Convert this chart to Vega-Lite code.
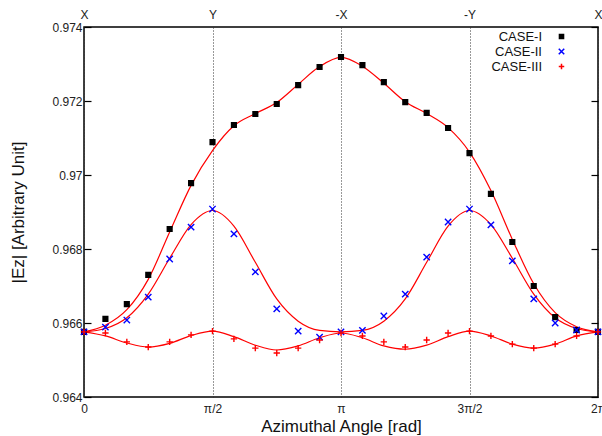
{
  "$schema": "https://vega.github.io/schema/vega-lite/v6.json",
  "width": 514,
  "height": 370,
  "autosize": "none",
  "padding": {"left": 84, "top": 27, "right": 4, "bottom": 39},
  "background": "white",
  "config": {
    "font": "Liberation Sans",
    "view": {"stroke": "black", "strokeWidth": 1.5},
    "axis": {"domain": false, "labelFont": "Liberation Sans", "titleFont": "Liberation Sans", "labelColor": "#222", "titleColor": "#111", "labelFontSize": 12, "titleFontSize": 17, "titleFontWeight": "normal", "tickColor": "black", "tickSize": -7, "tickWidth": 1.2}
  },
  "datasets": {
    "pts": [
      {"case": "CASE-I", "deg": 0, "v": 0.96576}, {"case": "CASE-I", "deg": 15, "v": 0.96611}, {"case": "CASE-I", "deg": 30, "v": 0.96651}, {"case": "CASE-I", "deg": 45, "v": 0.9673}, {"case": "CASE-I", "deg": 60, "v": 0.96854}, {"case": "CASE-I", "deg": 75, "v": 0.96978}, {"case": "CASE-I", "deg": 90, "v": 0.97089}, {"case": "CASE-I", "deg": 105, "v": 0.97135}, {"case": "CASE-I", "deg": 120, "v": 0.97165}, {"case": "CASE-I", "deg": 135, "v": 0.97192}, {"case": "CASE-I", "deg": 150, "v": 0.97243}, {"case": "CASE-I", "deg": 165, "v": 0.97292}, {"case": "CASE-I", "deg": 180, "v": 0.97319}, {"case": "CASE-I", "deg": 195, "v": 0.97297}, {"case": "CASE-I", "deg": 210, "v": 0.97251}, {"case": "CASE-I", "deg": 225, "v": 0.97197}, {"case": "CASE-I", "deg": 240, "v": 0.97168}, {"case": "CASE-I", "deg": 255, "v": 0.97127}, {"case": "CASE-I", "deg": 270, "v": 0.97059}, {"case": "CASE-I", "deg": 285, "v": 0.96949}, {"case": "CASE-I", "deg": 300, "v": 0.96819}, {"case": "CASE-I", "deg": 315, "v": 0.967}, {"case": "CASE-I", "deg": 330, "v": 0.96616}, {"case": "CASE-I", "deg": 345, "v": 0.96581}, {"case": "CASE-I", "deg": 360, "v": 0.96576},
      {"case": "CASE-II", "deg": 0, "v": 0.96576}, {"case": "CASE-II", "deg": 15, "v": 0.96589}, {"case": "CASE-II", "deg": 30, "v": 0.96608}, {"case": "CASE-II", "deg": 45, "v": 0.9667}, {"case": "CASE-II", "deg": 60, "v": 0.96773}, {"case": "CASE-II", "deg": 75, "v": 0.96859}, {"case": "CASE-II", "deg": 90, "v": 0.96908}, {"case": "CASE-II", "deg": 105, "v": 0.96841}, {"case": "CASE-II", "deg": 120, "v": 0.96738}, {"case": "CASE-II", "deg": 135, "v": 0.96638}, {"case": "CASE-II", "deg": 150, "v": 0.96578}, {"case": "CASE-II", "deg": 165, "v": 0.96562}, {"case": "CASE-II", "deg": 180, "v": 0.96576}, {"case": "CASE-II", "deg": 195, "v": 0.9658}, {"case": "CASE-II", "deg": 210, "v": 0.96619}, {"case": "CASE-II", "deg": 225, "v": 0.96678}, {"case": "CASE-II", "deg": 240, "v": 0.96778}, {"case": "CASE-II", "deg": 255, "v": 0.96873}, {"case": "CASE-II", "deg": 270, "v": 0.96908}, {"case": "CASE-II", "deg": 285, "v": 0.96865}, {"case": "CASE-II", "deg": 300, "v": 0.96768}, {"case": "CASE-II", "deg": 315, "v": 0.96665}, {"case": "CASE-II", "deg": 330, "v": 0.966}, {"case": "CASE-II", "deg": 345, "v": 0.96581}, {"case": "CASE-II", "deg": 360, "v": 0.96576},
      {"case": "CASE-III", "deg": 0, "v": 0.96576}, {"case": "CASE-III", "deg": 15, "v": 0.96573}, {"case": "CASE-III", "deg": 30, "v": 0.96549}, {"case": "CASE-III", "deg": 45, "v": 0.96535}, {"case": "CASE-III", "deg": 60, "v": 0.96549}, {"case": "CASE-III", "deg": 75, "v": 0.96568}, {"case": "CASE-III", "deg": 90, "v": 0.96578}, {"case": "CASE-III", "deg": 105, "v": 0.96557}, {"case": "CASE-III", "deg": 120, "v": 0.96532}, {"case": "CASE-III", "deg": 135, "v": 0.96519}, {"case": "CASE-III", "deg": 150, "v": 0.96532}, {"case": "CASE-III", "deg": 165, "v": 0.96554}, {"case": "CASE-III", "deg": 180, "v": 0.96573}, {"case": "CASE-III", "deg": 195, "v": 0.96565}, {"case": "CASE-III", "deg": 210, "v": 0.96549}, {"case": "CASE-III", "deg": 225, "v": 0.96535}, {"case": "CASE-III", "deg": 240, "v": 0.96554}, {"case": "CASE-III", "deg": 255, "v": 0.96573}, {"case": "CASE-III", "deg": 270, "v": 0.96578}, {"case": "CASE-III", "deg": 285, "v": 0.96565}, {"case": "CASE-III", "deg": 300, "v": 0.96543}, {"case": "CASE-III", "deg": 315, "v": 0.96532}, {"case": "CASE-III", "deg": 330, "v": 0.96543}, {"case": "CASE-III", "deg": 345, "v": 0.96565}, {"case": "CASE-III", "deg": 360, "v": 0.96576}
    ],
    "fit": [
      {"case": "CASE-I", "deg": 0, "v": 0.96576}, {"case": "CASE-I", "deg": 15, "v": 0.96594}, {"case": "CASE-I", "deg": 30, "v": 0.96636}, {"case": "CASE-I", "deg": 45, "v": 0.96718}, {"case": "CASE-I", "deg": 60, "v": 0.96846}, {"case": "CASE-I", "deg": 75, "v": 0.96972}, {"case": "CASE-I", "deg": 90, "v": 0.97066}, {"case": "CASE-I", "deg": 105, "v": 0.97133}, {"case": "CASE-I", "deg": 120, "v": 0.97166}, {"case": "CASE-I", "deg": 135, "v": 0.97196}, {"case": "CASE-I", "deg": 150, "v": 0.97245}, {"case": "CASE-I", "deg": 165, "v": 0.97293}, {"case": "CASE-I", "deg": 180, "v": 0.97318}, {"case": "CASE-I", "deg": 195, "v": 0.97294}, {"case": "CASE-I", "deg": 210, "v": 0.97248}, {"case": "CASE-I", "deg": 225, "v": 0.97198}, {"case": "CASE-I", "deg": 240, "v": 0.97166}, {"case": "CASE-I", "deg": 255, "v": 0.97128}, {"case": "CASE-I", "deg": 270, "v": 0.97062}, {"case": "CASE-I", "deg": 285, "v": 0.96958}, {"case": "CASE-I", "deg": 300, "v": 0.96826}, {"case": "CASE-I", "deg": 315, "v": 0.96706}, {"case": "CASE-I", "deg": 330, "v": 0.96628}, {"case": "CASE-I", "deg": 345, "v": 0.9659}, {"case": "CASE-I", "deg": 360, "v": 0.96576},
      {"case": "CASE-II", "deg": 0, "v": 0.96576}, {"case": "CASE-II", "deg": 15, "v": 0.96585}, {"case": "CASE-II", "deg": 30, "v": 0.96614}, {"case": "CASE-II", "deg": 45, "v": 0.96678}, {"case": "CASE-II", "deg": 60, "v": 0.96775}, {"case": "CASE-II", "deg": 75, "v": 0.96866}, {"case": "CASE-II", "deg": 90, "v": 0.96904}, {"case": "CASE-II", "deg": 105, "v": 0.96862}, {"case": "CASE-II", "deg": 120, "v": 0.96764}, {"case": "CASE-II", "deg": 135, "v": 0.96665}, {"case": "CASE-II", "deg": 150, "v": 0.96605}, {"case": "CASE-II", "deg": 165, "v": 0.9658}, {"case": "CASE-II", "deg": 180, "v": 0.96576}, {"case": "CASE-II", "deg": 195, "v": 0.9658}, {"case": "CASE-II", "deg": 210, "v": 0.96605}, {"case": "CASE-II", "deg": 225, "v": 0.96665}, {"case": "CASE-II", "deg": 240, "v": 0.96764}, {"case": "CASE-II", "deg": 255, "v": 0.96862}, {"case": "CASE-II", "deg": 270, "v": 0.96904}, {"case": "CASE-II", "deg": 285, "v": 0.96866}, {"case": "CASE-II", "deg": 300, "v": 0.96775}, {"case": "CASE-II", "deg": 315, "v": 0.96678}, {"case": "CASE-II", "deg": 330, "v": 0.96614}, {"case": "CASE-II", "deg": 345, "v": 0.96585}, {"case": "CASE-II", "deg": 360, "v": 0.96576},
      {"case": "CASE-III", "deg": 0, "v": 0.96576}, {"case": "CASE-III", "deg": 15, "v": 0.96565}, {"case": "CASE-III", "deg": 30, "v": 0.96546}, {"case": "CASE-III", "deg": 45, "v": 0.96535}, {"case": "CASE-III", "deg": 60, "v": 0.96545}, {"case": "CASE-III", "deg": 75, "v": 0.96566}, {"case": "CASE-III", "deg": 90, "v": 0.96578}, {"case": "CASE-III", "deg": 105, "v": 0.96563}, {"case": "CASE-III", "deg": 120, "v": 0.9654}, {"case": "CASE-III", "deg": 135, "v": 0.96527}, {"case": "CASE-III", "deg": 150, "v": 0.96538}, {"case": "CASE-III", "deg": 165, "v": 0.9656}, {"case": "CASE-III", "deg": 180, "v": 0.96573}, {"case": "CASE-III", "deg": 195, "v": 0.9656}, {"case": "CASE-III", "deg": 210, "v": 0.96538}, {"case": "CASE-III", "deg": 225, "v": 0.96529}, {"case": "CASE-III", "deg": 240, "v": 0.9654}, {"case": "CASE-III", "deg": 255, "v": 0.96563}, {"case": "CASE-III", "deg": 270, "v": 0.96578}, {"case": "CASE-III", "deg": 285, "v": 0.96565}, {"case": "CASE-III", "deg": 300, "v": 0.96543}, {"case": "CASE-III", "deg": 315, "v": 0.96532}, {"case": "CASE-III", "deg": 330, "v": 0.96543}, {"case": "CASE-III", "deg": 345, "v": 0.96565}, {"case": "CASE-III", "deg": 360, "v": 0.96576}
    ]
  },
  "resolve": {"axis": {"x": "independent", "y": "independent"}},
  "layer": [
    {
      "data": {"name": "fit"},
      "mark": {"type": "line", "color": "#ff0000", "strokeWidth": 1.2, "interpolate": "monotone"},
      "encoding": {
        "x": {"field": "deg", "type": "quantitative", "scale": {"domain": [0, 360], "nice": false},
          "axis": {"orient": "top", "values": [0, 90, 180, 270, 360], "labelExpr": "['X','Y','-X','-Y','X'][round(datum.value/90)]", "title": null, "ticks": false, "labelPadding": 6, "labelFontSize": 12, "grid": true, "gridDash": [1, 2], "gridColor": "#333", "gridWidth": 1, "labelFlush": false}},
        "y": {"field": "v", "type": "quantitative", "scale": {"domain": [0.964, 0.974], "nice": false, "zero": false},
          "axis": {"orient": "right", "values": [0.964, 0.966, 0.968, 0.97, 0.972, 0.974], "labels": false, "title": null, "grid": false}},
        "detail": {"field": "case"}
      }
    },
    {
      "data": {"name": "pts"},
      "mark": {"type": "point", "filled": false, "strokeWidth": 1.4, "opacity": 1},
      "encoding": {
        "x": {"field": "deg", "type": "quantitative",
          "axis": {"orient": "bottom", "values": [0, 90, 180, 270, 360], "labelExpr": "['0','π/2','π','3π/2','2π'][round(datum.value/90)]", "title": "Azimuthal Angle [rad]", "ticks": false, "labelPadding": 6, "titlePadding": 4, "grid": false, "labelFlush": false}},
        "y": {"field": "v", "type": "quantitative",
          "axis": {"orient": "left", "values": [0.964, 0.966, 0.968, 0.97, 0.972, 0.974], "format": ".3~f", "title": "|Ez| [Arbitrary Unit]", "labelPadding": 9, "titlePadding": 24, "grid": false}},
        "shape": {"field": "case", "type": "nominal",
          "scale": {"domain": ["CASE-I", "CASE-II", "CASE-III"], "range": ["M-0.75,-0.75H0.75V0.75H-0.75Z M-0.75,-0.75L0.75,0.75 M-0.75,0.75L0.75,-0.75 M0,-0.75V0.75 M-0.75,0H0.75 M-0.4,-0.4H0.4V0.4H-0.4Z", "M-1,-1L1,1M-1,1L1,-1", "M-1,0H1M0,-1V1"]},
          "legend": {"orient": "none", "legendX": 471, "legendY": 3, "title": null, "labelAlign": "right", "labelOffset": -26, "labelFontSize": 13, "labelColor": "#111", "rowPadding": 1, "symbolSize": 30, "symbolStrokeWidth": 1.5, "symbolFillColor": "transparent", "labelFont": "Liberation Sans"}},
        "color": {"field": "case", "type": "nominal",
          "scale": {"domain": ["CASE-I", "CASE-II", "CASE-III"], "range": ["#000000", "#0000ff", "#ff0000"]}},
        "size": {"value": 40}
      }
    }
  ]
}
